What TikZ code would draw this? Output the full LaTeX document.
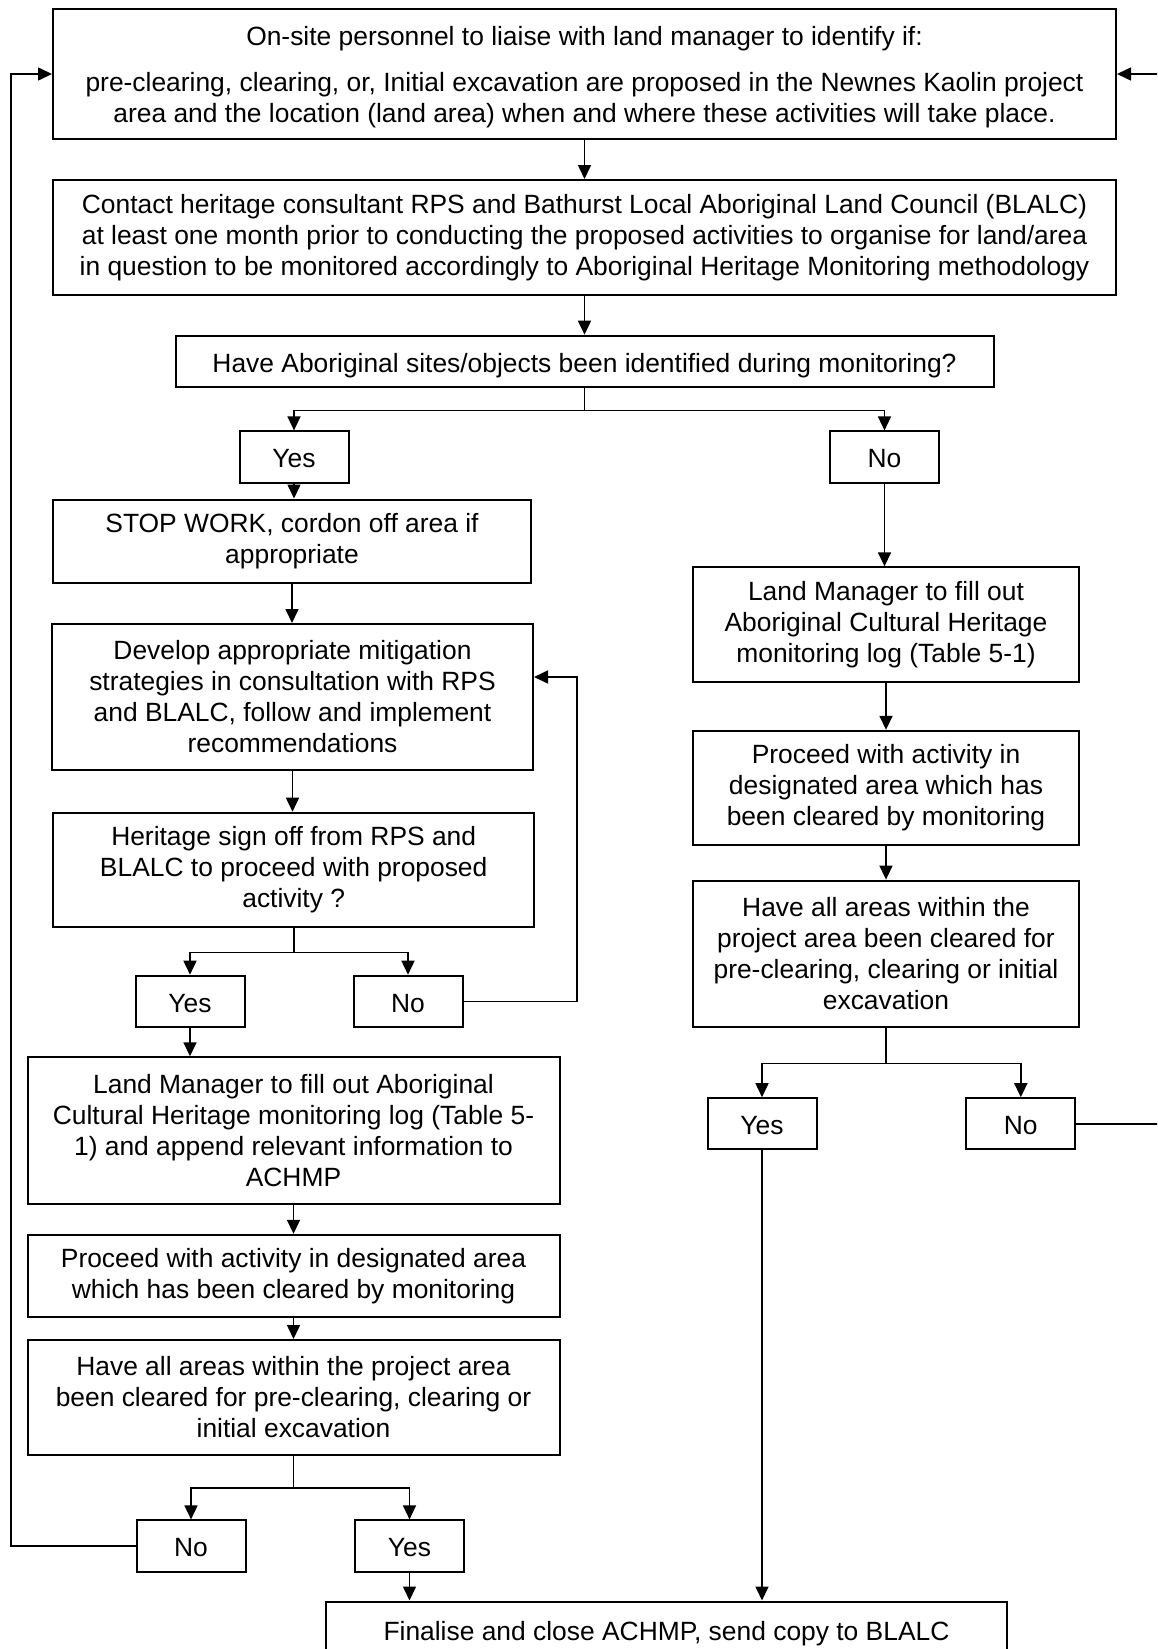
\documentclass[tikz,border=0pt]{standalone}
\usepackage{fontspec}
\setmainfont{Liberation Sans}
\usepackage{tikz}
\usetikzlibrary{arrows.meta, positioning, calc}

\newcommand{\boxfont}{\fontsize{13.2}{15.5}\selectfont}

\begin{document}
\begin{tikzpicture}[
    x=0.5pt, y=-0.5pt,
    box/.style={rectangle, draw, line width=1pt, inner sep=0pt, align=center, font=\boxfont},
    oneline/.style={box, execute at begin node={\rule{0pt}{13.8pt}}, execute at end node={\rule[-3pt]{0pt}{0pt}}},
    ans/.style={oneline, minimum width=54.5pt, minimum height=25.6pt},
    arrow/.style={->, >={Triangle[length=7pt,width=6.5pt]}, line width=0.8pt}
]
\clip (0,0) rectangle (1157,1649);
\fill[white] (0,0) rectangle (1157,1649);

% Top
\node[box, minimum width=531.5pt, minimum height=65pt] (top) at (584.5,74) {\rule{0pt}{12.7pt}On-site personnel to liaise with land manager to identify if:\\[7.8pt]
    pre-clearing, clearing, or, Initial excavation are proposed in the Newnes Kaolin project\\
    area and the location (land area) when and where these activities will take place.};
\node[box, minimum width=531.5pt, minimum height=57.5pt] (contact) at (584.5,237.5) {Contact heritage consultant RPS and Bathurst Local Aboriginal Land Council (BLALC)\\
    at least one month prior to conducting the proposed activities to organise for land/area\\
    in question to be monitored accordingly to Aboriginal Heritage Monitoring methodology};
\node[oneline, minimum width=409pt, minimum height=25.8pt] (found) at (584.5,361.5) {Have Aboriginal sites/objects been identified during monitoring?};
\node[ans] (yesA) at (294,457) {Yes};
\node[ans] (noA) at (884.5,457) {No};

% Left side
\node[box, minimum width=238.8pt, minimum height=41.5pt] (stop) at (292,541) {STOP WORK, cordon off area if\\ appropriate};
\node[box, minimum width=240.5pt, minimum height=73pt] (develop) at (292.5,697) {Develop appropriate mitigation\\ strategies in consultation with RPS\\ and BLALC, follow and implement\\ recommendations};
\node[box, minimum width=240.5pt, minimum height=57.3pt] (signoff) at (293.7,870) {Heritage sign off from RPS and\\ BLALC to proceed with proposed\\ activity ?};
\node[ans] (yesB) at (190,1001.3) {Yes};
\node[ans] (noB) at (408,1001.3) {No};
\node[box, minimum width=266pt, minimum height=73.2pt] (logL) at (293.5,1130.5) {Land Manager to fill out Aboriginal\\ Cultural Heritage monitoring log (Table 5-\\ 1) and append relevant information to\\ ACHMP};
\node[box, minimum width=266pt, minimum height=41.2pt] (proceedL) at (293.5,1276) {Proceed with activity in designated area\\ which has been cleared by monitoring};
\node[box, minimum width=266pt, minimum height=57.5pt] (clearedL) at (293.5,1397.5) {Have all areas within the project area\\ been cleared for pre-clearing, clearing or\\ initial excavation};
\node[ans] (noD) at (191,1546) {No};
\node[ans] (yesD) at (409.5,1546) {Yes};

% Right side
\node[box, minimum width=192.7pt, minimum height=57.4pt] (logR) at (886,624.7) {Land Manager to fill out\\ Aboriginal Cultural Heritage\\ monitoring log (Table 5-1)};
\node[box, minimum width=192.7pt, minimum height=57.2pt] (proceedR) at (886,788) {Proceed with activity in\\ designated area which has\\ been cleared by monitoring};
\node[box, minimum width=192.7pt, minimum height=73.4pt] (clearedR) at (886,954) {Have all areas within the\\ project area been cleared for\\ pre-clearing, clearing or initial\\ excavation};
\node[ans] (yesC) at (762,1123.8) {Yes};
\node[ans] (noC) at (1020.8,1123.8) {No};

% Bottom
\node[oneline, minimum width=340.5pt, minimum height=28.5pt] (close) at (666.5,1630) {Finalise and close ACHMP, send copy to BLALC};

% Loop points
\coordinate (loopL) at (11,74);
\coordinate (loopR) at (1162,74);
\coordinate (loopM) at (577,677);

% Connectors
\draw[arrow] (top) -- (contact);
\draw[arrow] (contact) -- (found);
\draw[arrow] (found.south) -- ++(0,22) -| (yesA.north);
\draw[arrow] (found.south) -- ++(0,22) -| (noA.north);
\draw[arrow] (yesA) -- (stop.north -| yesA);
\draw[arrow] (stop.south) -- (develop.north -| stop.south);
\draw[arrow] (develop.south) -- (signoff.north -| develop.south);
\draw[arrow] (signoff.south) -- ++(0,24) -| (yesB.north);
\draw[arrow] (signoff.south) -- ++(0,24) -| (noB.north);
\draw[arrow] (noB.east) -| (loopM) -- (loopM -| develop.east);
\draw[arrow] (yesB.south) -- (yesB.south |- logL.north);
\draw[arrow] (logL.south) -- (proceedL.north);
\draw[arrow] (proceedL.south) -- (clearedL.north);
\draw[arrow] (clearedL.south) -- ++(0,32) -| (noD.north);
\draw[arrow] (clearedL.south) -- ++(0,32) -| (yesD.north);
\draw[arrow] (noD.west) -| (loopL) -- (top.west);
\draw[arrow] (yesD.south) -- (yesD.south |- close.north);
\draw[arrow] (noA.south) -- (noA.south |- logR.north);
\draw[arrow] (logR.south) -- (proceedR.north);
\draw[arrow] (proceedR.south) -- (clearedR.north);
\draw[arrow] (clearedR.south) -- ++(0,35) -| (yesC.north);
\draw[arrow] (clearedR.south) -- ++(0,35) -| (noC.north);
\draw[arrow] (noC.east) -| (loopR) -- (top.east);
\draw[arrow] (yesC.south) -- (yesC.south |- close.north);

\end{tikzpicture}
\end{document}
